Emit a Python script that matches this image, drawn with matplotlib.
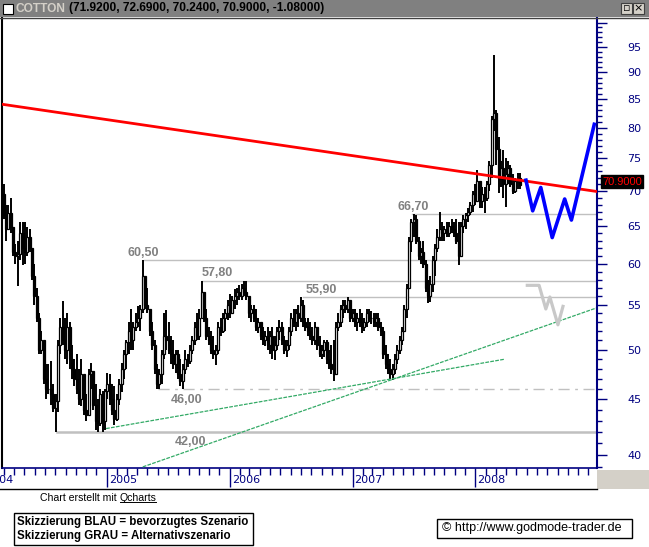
# Cotton weekly chart with support/resistance levels and scenario sketches
import matplotlib
matplotlib.use('Agg')
import matplotlib.pyplot as plt
import matplotlib.dates as mdates
from matplotlib.ticker import FixedLocator, FixedFormatter, NullFormatter
from matplotlib.patches import Rectangle
from matplotlib.lines import Line2D
import numpy as np
import pandas as pd

W, H = 649, 547  # window size in pixels

# ---- data (weekly bars) ----
first_week = '2004-02-23'
first_open = 70.5
highs = [72.4, 71.0, 68.0, 68.0, 69.0, 64.5, 62.5, 63.0, 65.5, 65.5,
         65.5, 64.8, 64.5, 62.0, 60.0, 57.0, 54.0, 52.0, 50.5, 48.5,
         48.5, 48.8, 46.5, 45.5, 51.0, 53.5, 55.4, 53.5, 54.0, 53.0,
         50.5, 49.0, 49.5, 48.0, 49.0, 46.5, 45.5, 48.0, 48.6, 47.5,
         46.5, 45.0, 46.0, 45.8, 46.0, 47.6, 47.5, 46.5, 46.3, 45.5,
         47.0, 48.6, 50.0, 51.0, 53.0, 54.5, 53.0, 54.0, 54.8, 55.0,
         60.5, 58.5, 57.0, 54.5, 53.0, 51.0, 48.5, 48.0, 50.0, 54.0,
         54.4, 53.0, 51.5, 51.0, 50.0, 50.0, 49.0, 48.5, 50.0, 49.5,
         50.5, 51.5, 53.0, 54.0, 54.5, 57.8, 56.5, 54.5, 52.5, 52.0,
         51.5, 50.5, 53.0, 53.5, 54.0, 54.5, 55.5, 56.3, 56.0, 56.8,
         57.0, 57.3, 57.5, 57.8, 57.8, 56.0, 55.0, 55.0, 54.5, 53.5,
         53.0, 52.5, 52.0, 52.5, 52.0, 52.5, 51.5, 52.5, 53.2, 53.0,
         51.5, 51.0, 52.5, 54.0, 54.5, 54.5, 55.0, 55.9, 55.5, 53.5,
         53.5, 53.0, 52.5, 53.0, 52.5, 51.5, 50.5, 51.0, 51.0, 50.0,
         50.5, 51.0, 53.0, 54.0, 55.0, 55.5, 55.5, 55.9, 55.5, 54.5,
         54.5, 54.0, 54.5, 54.0, 53.5, 54.5, 54.5, 54.3, 54.0, 54.0,
         54.0, 53.0, 52.5, 50.5, 49.5, 49.0, 48.5, 49.5, 50.5, 51.5,
         52.5, 55.0, 57.5, 63.5, 66.0, 66.7, 66.5, 63.5, 62.0, 63.0,
         60.5, 58.0, 58.5, 61.0, 62.5, 64.5, 67.0, 65.5, 65.0, 65.5,
         65.5, 66.0, 65.5, 66.0, 65.5, 65.5, 66.5, 66.8, 67.5, 68.3,
         70.0, 71.0, 73.2, 71.5, 70.5, 70.5, 71.5, 74.5, 82.0, 93.4,
         83.0, 78.5, 74.5, 76.3, 75.0, 74.5, 74.0, 72.5, 72.0, 72.7,
         72.69]
lows = [68.5, 66.0, 63.0, 64.5, 64.0, 61.0, 60.0, 57.2, 60.5, 59.8,
        60.0, 61.0, 61.5, 58.0, 55.0, 53.0, 49.5, 49.5, 46.5, 45.0,
        45.5, 44.5, 43.8, 42.0, 43.8, 49.5, 50.5, 49.0, 48.5, 48.0,
        47.0, 46.3, 45.5, 44.5, 44.4, 43.5, 43.0, 43.5, 46.0, 44.0,
        42.2, 42.0, 42.5, 42.0, 42.2, 45.0, 44.5, 43.5, 42.6, 43.0,
        44.5, 45.7, 47.0, 48.0, 49.5, 50.0, 50.0, 52.0, 52.5, 52.0,
        54.0, 54.5, 54.0, 51.5, 50.0, 47.5, 46.0, 46.0, 46.5, 49.0,
        50.0, 49.5, 48.5, 48.0, 47.6, 47.0, 46.3, 46.0, 47.5, 48.2,
        48.5, 49.5, 50.5, 51.0, 51.0, 53.5, 53.0, 51.0, 50.5, 49.5,
        49.0, 48.4, 49.5, 51.5, 51.8, 52.0, 53.2, 53.5, 54.0, 54.5,
        55.0, 55.5, 55.5, 56.0, 55.5, 53.5, 53.0, 53.0, 52.0, 51.8,
        51.0, 50.5, 50.4, 50.0, 49.5, 49.0, 48.9, 50.0, 51.0, 50.5,
        49.5, 49.2, 50.0, 51.5, 52.5, 52.0, 52.5, 53.0, 52.5, 52.0,
        51.5, 51.0, 50.5, 50.5, 50.0, 49.2, 49.0, 49.2, 48.5, 48.0,
        47.5, 46.8, 47.5, 52.0, 52.5, 53.5, 54.0, 54.0, 53.0, 53.0,
        52.5, 52.0, 52.5, 51.8, 52.0, 52.5, 53.0, 52.8, 52.5, 52.5,
        52.0, 51.5, 49.0, 48.0, 47.5, 47.0, 46.9, 47.5, 48.5, 49.5,
        50.5, 52.0, 53.5, 58.5, 61.5, 63.5, 62.5, 60.5, 60.0, 59.5,
        56.5, 55.2, 55.3, 56.5, 58.5, 61.5, 63.0, 63.0, 63.0, 63.5,
        63.5, 64.0, 63.5, 62.5, 59.8, 62.0, 64.0, 64.5, 65.5, 66.5,
        67.0, 68.0, 69.0, 67.5, 67.5, 66.8, 68.5, 70.0, 72.0, 79.5,
        74.0, 69.7, 70.5, 69.0, 67.6, 71.0, 70.5, 69.5, 69.7, 70.2,
        70.24]
closes = [69.5, 66.5, 64.5, 66.8, 64.8, 61.5, 61.0, 61.2, 64.0, 62.0,
          61.5, 63.5, 62.0, 58.5, 56.0, 53.5, 50.0, 51.0, 47.0, 46.0,
          46.0, 45.5, 44.2, 44.8, 50.5, 52.5, 51.0, 50.0, 52.5, 49.0,
          48.0, 47.0, 46.0, 45.0, 47.5, 44.0, 43.5, 47.5, 47.8, 44.5,
          43.0, 42.8, 45.5, 43.0, 45.8, 46.5, 45.0, 44.0, 43.2, 45.0,
          46.5, 48.0, 49.5, 50.8, 52.0, 51.0, 52.5, 53.0, 53.5, 54.5,
          58.5, 55.0, 54.5, 52.0, 50.5, 48.0, 46.5, 47.5, 49.5, 51.5,
          51.0, 50.0, 49.5, 48.5, 49.5, 47.5, 46.8, 48.0, 49.0, 48.8,
          50.0, 51.0, 52.5, 51.5, 53.5, 56.5, 53.5, 51.5, 51.0, 50.0,
          49.5, 50.0, 52.5, 52.0, 53.5, 54.0, 55.0, 54.0, 55.5, 56.0,
          56.5, 56.0, 57.0, 56.5, 56.0, 54.0, 54.5, 53.5, 52.5, 53.0,
          51.5, 51.0, 51.5, 50.5, 51.5, 50.0, 50.5, 52.0, 52.5, 51.0,
          50.0, 50.5, 52.0, 53.5, 53.0, 54.0, 53.5, 55.0, 53.0, 52.5,
          52.0, 51.5, 51.0, 52.5, 50.5, 49.5, 50.0, 50.8, 49.0, 48.5,
          48.0, 47.5, 52.5, 53.0, 54.5, 55.0, 54.5, 55.5, 53.5, 54.0,
          53.0, 53.5, 53.0, 52.5, 53.0, 54.0, 53.5, 53.5, 53.0, 53.5,
          52.5, 52.0, 49.5, 48.5, 48.0, 47.5, 48.0, 49.0, 50.0, 51.0,
          52.0, 54.5, 57.0, 63.0, 65.5, 66.0, 63.0, 61.0, 61.5, 60.0,
          57.0, 56.0, 57.5, 60.5, 62.0, 63.5, 64.5, 64.0, 64.5, 64.0,
          65.0, 64.5, 64.0, 63.0, 61.0, 65.0, 66.0, 66.5, 67.0, 68.0,
          69.5, 68.5, 71.5, 68.5, 69.5, 69.0, 71.0, 74.0, 81.5, 82.5,
          76.5, 72.0, 73.5, 71.0, 72.5, 73.5, 71.0, 70.0, 71.5, 72.0,
          70.90]

title_name = 'COTTON'
title_values = '(71.9200, 72.6900, 70.2400, 70.9000, -1.08000)'
last_price = 70.90

year_labels = ['2004', '2005', '2006', '2007', '2008']
price_ticks = [40, 45, 50, 55, 60, 65, 70, 75, 80, 85, 90, 95, 100]
price_tick_labels = ['40', '45', '50', '55', '60', '65', '70', '75', '80',
                     '85', '90', '95', '']
price_minor = [p for p in range(39, 101) if p % 5 != 0]

# horizontal levels: start date, price, label
level_starts = ['2007-06-28', '2005-04-21', '2005-10-10', '2006-08-06']
level_prices = [66.70, 60.50, 57.80, 55.90]
level_labels = ['66,70', '60,50', '57,80', '55,90']
level_label_offsets = [(-15, 7), (-16, 7), (0, 8), (3, 7)]  # pixels

support_46_start, support_46 = '2005-06-02', 46.00
support_42_start, support_42 = '2004-08-07', 42.00

# trend lines
red_dates = ['2004-02-25', '2008-12-27']
red_prices = [84.1, 69.9]
green1_dates = ['2004-12-30', '2008-03-28']
green1_prices = [42.3, 49.0]
green2_dates = ['2005-04-18', '2008-12-24']
green2_prices = [39.0, 54.6]

# scenario sketches
blue_dates = ['2008-05-30', '2008-06-19', '2008-07-13', '2008-08-16',
              '2008-09-22', '2008-10-12', '2008-12-19']
blue_prices = [71.6, 67.1, 70.5, 63.4, 68.8, 65.8, 80.6]
gray_dates = ['2008-06-03', '2008-07-08', '2008-07-28', '2008-08-09',
              '2008-09-02', '2008-09-17']
gray_prices = [57.3, 57.3, 54.5, 55.9, 52.7, 54.8]

x_start, x_end = '2004-02-25', '2008-12-27'
y_low, y_high = 38.91, 100.96


def fx(px):
    return px / W


def fy(py):
    return 1 - py / H


def d(s):
    return mdates.date2num(pd.to_datetime(s))


NAVY = '#000080'
LVL = '#c0c0c0'
LBL = '#808080'
GREEN = '#33aa66'
SANS = 'Liberation Sans'

fig = plt.figure(figsize=(W / 100, H / 100), dpi=100)
fig.patch.set_facecolor('white')

ax = fig.add_axes([fx(2), fy(468), fx(597) - fx(2), fy(18) - fy(468)])
ax.set_yscale('log')
ax.set_xlim(d(x_start), d(x_end))
ax.set_ylim(y_low, y_high)

# levels
for start, price, label, off in zip(level_starts, level_prices, level_labels, level_label_offsets):
    ax.plot([d(start), d(x_end)], [price, price], color=LVL, lw=1.0, zorder=1)
    ax.annotate(label, xy=(d(start), price), xytext=off, textcoords='offset pixels',
                ha='left', va='center', color=LBL, fontsize=9, fontweight='bold',
                family=SANS, zorder=2)
ax.plot([d(support_46_start), d(x_end)], [support_46, support_46], color=LVL, lw=1.0,
        linestyle=(0, (8, 4, 2, 4)), zorder=1)
ax.annotate('46,00', xy=(d(support_46_start), support_46), xytext=(13, -11),
            textcoords='offset pixels', ha='left', va='center', color=LBL,
            fontsize=9, fontweight='bold', family=SANS)
ax.plot([d(support_42_start), d(x_end)], [support_42, support_42], color=LVL, lw=1.8, zorder=1)
ax.annotate('42,00', xy=(d(support_42_start), support_42), xytext=(118, -10),
            textcoords='offset pixels', ha='left', va='center', color=LBL,
            fontsize=9, fontweight='bold', family=SANS)

# candles (open = previous close)
dates = pd.date_range(first_week, periods=len(closes), freq='7D')
xs = mdates.date2num(dates)
c = np.array(closes)
o = np.r_[first_open, c[:-1]]
ax.vlines(xs, lows, highs, color='black', lw=1.4, zorder=3)
ax.bar(xs, np.abs(c - o), bottom=np.minimum(o, c), width=6,
       color=np.where(c > o, 'white', 'black'), edgecolor='black', linewidth=0.9, zorder=4)

# trend lines
ax.plot([d(s) for s in green1_dates], green1_prices, color=GREEN, lw=0.9,
        linestyle=(0, (3, 1)), zorder=5)
ax.plot([d(s) for s in green2_dates], green2_prices, color=GREEN, lw=0.9,
        linestyle=(0, (3, 1)), zorder=5)
ax.plot([d(s) for s in red_dates], red_prices, color='red', lw=2.0, zorder=6)

# scenario sketches
ax.plot([d(s) for s in gray_dates], gray_prices, color='#c8c8c8', lw=2.3, zorder=6)
ax.plot([d(s) for s in blue_dates], blue_prices, color='#0000ff', lw=2.6, zorder=7)

# axes styling
ax.spines['top'].set_visible(False)
ax.spines['left'].set_color('black')
ax.spines['left'].set_linewidth(1.5)
ax.spines['right'].set_color(NAVY)
ax.spines['right'].set_linewidth(1.5)
ax.spines['bottom'].set_color(NAVY)
ax.spines['bottom'].set_linewidth(1.2)

ax.yaxis.tick_right()
ax.yaxis.set_major_locator(FixedLocator(price_ticks))
ax.yaxis.set_major_formatter(FixedFormatter(price_tick_labels))
ax.yaxis.set_minor_locator(FixedLocator(price_minor))
ax.yaxis.set_minor_formatter(NullFormatter())
ax.tick_params(axis='y', which='major', length=7, width=1, color=NAVY,
               labelcolor=NAVY, labelsize=8, pad=15)
ax.tick_params(axis='y', which='minor', length=3.6, width=1, color=NAVY)

ax.xaxis.set_major_locator(mdates.YearLocator())
ax.xaxis.set_minor_locator(mdates.MonthLocator())
ax.xaxis.set_major_formatter(NullFormatter())
ax.tick_params(axis='x', which='major', length=14, width=1, color=NAVY)
ax.tick_params(axis='x', which='minor', length=5, width=1, color=NAVY)
for y in year_labels:
    ax.annotate(y, xy=(d(f'{y}-01-01'), 0), xycoords=('data', 'axes fraction'),
                xytext=(2, -12), textcoords='offset pixels', ha='left', va='center',
                color=NAVY, fontsize=8, annotation_clip=False)

# last price box
ax.annotate(f'{last_price:.4f}', xy=(1, last_price), xycoords=('axes fraction', 'data'),
            xytext=(5, 3), textcoords='offset pixels', ha='left', va='center',
            color='red', fontsize=8, family=SANS, annotation_clip=False,
            bbox=dict(boxstyle='square,pad=0.12', fc='black', ec='black'))

# window frame
fig.patches.append(Rectangle((0, fy(17)), 1, 17 / H, transform=fig.transFigure,
                             facecolor='#808080', edgecolor='none', zorder=0))
fig.lines.append(Line2D([0, 1], [fy(17.5), fy(17.5)], transform=fig.transFigure,
                        color='#404040', lw=1))
fig.patches.append(Rectangle((fx(3), fy(14)), fx(10), 10 / H, transform=fig.transFigure,
                             facecolor='white', edgecolor='black', lw=0.8))
for bx in [621, 633]:
    fig.patches.append(Rectangle((fx(bx), fy(14)), fx(11), 11 / H, transform=fig.transFigure,
                                 facecolor='#d4d0c8', edgecolor='#404040', lw=0.8))
fig.text(fx(638.5), fy(8.5), '×', ha='center', va='center', fontsize=8, color='black')
fig.text(fx(626.5), fy(8.5), '▫', ha='center', va='center', fontsize=8, color='black',
         family='DejaVu Sans')
t1 = fig.text(fx(15), fy(8.5), title_name, color='#d4d0c8', fontweight='bold',
              fontsize=8.6, family=SANS, ha='left', va='center')

fig.lines.append(Line2D([0, fx(597)], [fy(489), fy(489)], transform=fig.transFigure,
                        color='black', lw=1))
fig.patches.append(Rectangle((fx(597), fy(489)), 1 - fx(597), 19 / H, transform=fig.transFigure,
                             facecolor='#d4d0c8', edgecolor='none'))

# footer
t2 = fig.text(fx(40), fy(498), 'Chart erstellt mit ', fontsize=7.6, family=SANS,
              ha='left', va='center')
fig.patches.append(Rectangle((fx(14), fy(545)), fx(239), 32 / H, transform=fig.transFigure,
                             facecolor='white', edgecolor='black', lw=1))
fig.text(fx(17), fy(522), 'Skizzierung BLAU = bevorzugtes Szenario', fontsize=8.3,
         fontweight='bold', family=SANS, ha='left', va='center')
fig.text(fx(17), fy(536), 'Skizzierung GRAU = Alternativszenario', fontsize=8.3,
         fontweight='bold', family=SANS, ha='left', va='center')
fig.patches.append(Rectangle((fx(437), fy(538)), fx(195), 19 / H, transform=fig.transFigure,
                             facecolor='white', edgecolor='black', lw=1))
fig.text(fx(442), fy(528.5), '© http://www.godmode-trader.de', fontsize=9,
         family=SANS, ha='left', va='center')

# texts that follow other texts on the same line
fig.canvas.draw()
bb1 = t1.get_window_extent()
fig.text((bb1.x1 + 4) / W, fy(8.5), title_values, color='black', fontweight='bold',
         fontsize=8.6, family=SANS, ha='left', va='center')
bb2 = t2.get_window_extent()
t3 = fig.text(bb2.x1 / W, fy(498), 'Qcharts', fontsize=7.6, family=SANS,
              ha='left', va='center')
fig.canvas.draw()
bb3 = t3.get_window_extent()
fig.lines.append(Line2D([bb3.x0 / W, bb3.x1 / W], [(bb3.y0 + 1) / H, (bb3.y0 + 1) / H],
                        transform=fig.transFigure, color='black', lw=0.7))

fig.savefig('out.png', dpi=100)
